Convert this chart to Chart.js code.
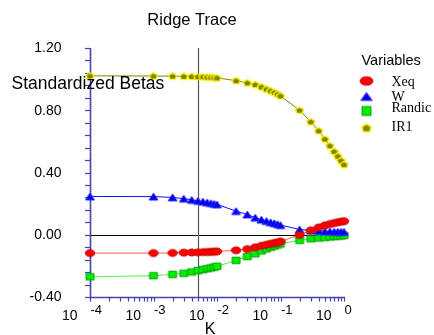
<!DOCTYPE html>
<html><head><meta charset="utf-8">
<script src="https://cdn.jsdelivr.net/npm/chart.js@4.4.1/dist/chart.umd.min.js"></script>
<style>html,body{margin:0;padding:0;background:#fff}#wrap{width:434px;height:335px}</style>
</head><body><div id="wrap"><canvas id="c" width="434" height="335"></canvas></div>
<script>
// ---- data ----
const K = [0.0001,
  0.001,0.002,0.003,0.004,0.005,0.006,0.007,0.008,0.009,
  0.01,0.02,0.03,0.04,0.05,0.06,0.07,0.08,0.09,
  0.1,0.2,0.3,0.4,0.5,0.6,0.7,0.8,0.9,1.0];
const xeq = [-0.118,
  -0.118,-0.117,-0.115,-0.114,-0.113,-0.112,-0.111,-0.110,-0.109,
  -0.107,-0.100,-0.092,-0.081,-0.071,-0.064,-0.058,-0.053,-0.049,
  -0.043,-0.001,0.028,0.047,0.060,0.069,0.075,0.080,0.084,0.087];
const w = [0.246,
  0.245,0.240,0.232,0.224,0.218,0.213,0.208,0.203,0.199,
  0.195,0.152,0.130,0.110,0.097,0.088,0.080,0.074,0.068,
  0.062,0.034,0.027,0.024,0.022,0.021,0.020,0.020,0.019,0.019];
const randic = [-0.270,
  -0.263,-0.255,-0.248,-0.239,-0.230,-0.224,-0.218,-0.213,-0.208,
  -0.203,-0.165,-0.140,-0.122,-0.104,-0.091,-0.080,-0.072,-0.065,
  -0.058,-0.036,-0.026,-0.021,-0.017,-0.014,-0.011,-0.009,-0.007,-0.005];
const ir1 = [1.021,
  1.020,1.019,1.018,1.017,1.016,1.015,1.013,1.012,1.010,
  1.008,0.990,0.976,0.965,0.950,0.936,0.925,0.915,0.904,
  0.892,0.800,0.726,0.668,0.615,0.572,0.535,0.505,0.477,0.451];
const seriesNames = ['Xeq','W','Randic','IR1'];
const yTickLabels = ['-0.40','0.00','0.40','0.80','1.20'];
const xTickExponents = ['-4','-3','-2','-1','0'];
const selectedK = 0.005;
const titleText = 'Ridge Trace';
const yTitle = 'Standardized Betas';
const xTitle = 'K';
const legendTitle = 'Variables';

// ---- markers ----
function makeMarker(shape, mw, mh, fill, stroke, lw) {
  const pad = Math.ceil(lw) + 1;
  const c = document.createElement('canvas');
  c.width = Math.ceil(mw + 2 * pad); c.height = Math.ceil(mh + 2 * pad);
  const g = c.getContext('2d');
  const cx = c.width / 2, cy = c.height / 2;
  g.beginPath();
  if (shape === 'ellipse') g.ellipse(cx, cy, mw / 2, mh / 2, 0, 0, Math.PI * 2);
  else if (shape === 'tri') { g.moveTo(cx, cy - mh / 2); g.lineTo(cx + mw / 2, cy + mh / 2); g.lineTo(cx - mw / 2, cy + mh / 2); g.closePath(); }
  else if (shape === 'rect') g.rect(cx - mw / 2, cy - mh / 2, mw, mh);
  else if (shape === 'penta') {
    for (let i = 0; i < 5; i++) {
      const a = -Math.PI / 2 + i * 2 * Math.PI / 5;
      const px = cx + Math.cos(a) * mw / 2, py = cy + Math.sin(a) * mh / 2 + mh * 0.05;
      i ? g.lineTo(px, py) : g.moveTo(px, py);
    }
    g.closePath();
  }
  g.fillStyle = fill; g.fill();
  g.lineWidth = lw; g.strokeStyle = stroke; g.stroke();
  return c;
}
const styles = [
  {shape:'ellipse', fill:'#ff0000', stroke:'#c00000', line:'#ff5a5a', w:9.5, h:7},
  {shape:'tri', fill:'#0000e6', stroke:'#2a2aff', line:'#1010ff', w:9, h:7},
  {shape:'rect', fill:'#00ee00', stroke:'#009a00', line:'#50f050', w:8, h:6.5},
  {shape:'penta', fill:'#858000', stroke:'#f2f200', line:'#808000', w:8.5, h:7}
];
const plotMarkers = styles.map(s => makeMarker(s.shape, s.w, s.h, s.fill, s.stroke, s.shape === 'penta' ? 1.3 : 0.9));
const legendMarkers = [
  makeMarker('ellipse', 13, 8.5, styles[0].fill, styles[0].stroke, 0.9),
  makeMarker('tri', 11.5, 8, styles[1].fill, styles[1].stroke, 0.9),
  makeMarker('rect', 9, 9, styles[2].fill, styles[2].stroke, 0.9),
  makeMarker('penta', 10, 8.5, styles[3].fill, styles[3].stroke, 1.4)
];
const seriesValues = [xeq, w, randic, ir1];

const datasets = seriesValues.map((vals, i) => ({
  label: seriesNames[i],
  data: K.map((k, j) => ({x: k, y: vals[j]})),
  borderColor: styles[i].line,
  borderWidth: 1,
  pointStyle: plotMarkers[i],
  pointRadius: 4,
  pointHoverRadius: 4,
  tension: 0,
  clip: false
}));

const AXIS = '#4343ad';
const axesPlugin = {
  id: 'axesPlugin',
  beforeDatasetsDraw(chart) {
    const {ctx, chartArea: a, scales: {x, y}} = chart;
    ctx.save();
    // zero line
    ctx.strokeStyle = '#000'; ctx.lineWidth = 1;
    const y0 = Math.round(y.getPixelForValue(0)) + 0.5;
    ctx.beginPath(); ctx.moveTo(a.left, y0); ctx.lineTo(a.right, y0); ctx.stroke();
    // selected K line
    const xs = Math.round(x.getPixelForValue(selectedK)) + 0.5;
    ctx.strokeStyle = '#555'; ctx.lineWidth = 1.2;
    ctx.beginPath(); ctx.moveTo(xs, a.top); ctx.lineTo(xs, a.bottom); ctx.stroke();
    // axes
    ctx.strokeStyle = AXIS; ctx.lineWidth = 1.6;
    ctx.beginPath(); ctx.moveTo(a.left + 0.5, a.top); ctx.lineTo(a.left + 0.5, a.bottom + 0.5); ctx.lineTo(a.right + 1, a.bottom + 0.5); ctx.stroke();
    ctx.lineWidth = 1.2;
    // y ticks every 0.08
    for (let i = 0; i <= 20; i++) {
      const v = -0.4 + i * 0.08;
      const py = Math.round(y.getPixelForValue(v)) + 0.5;
      ctx.beginPath(); ctx.moveTo(a.left - 5, py); ctx.lineTo(a.left, py); ctx.stroke();
    }
    // x log ticks
    for (let d = -4; d <= 0; d++) {
      for (let m = 1; m <= 9; m++) {
        const v = m * Math.pow(10, d);
        if (v > 1.0000001) break;
        const px = Math.round(x.getPixelForValue(v)) + 0.5;
        ctx.beginPath(); ctx.moveTo(px, a.bottom); ctx.lineTo(px, a.bottom + 4.5); ctx.stroke();
      }
    }
    ctx.restore();
  },
  afterDraw(chart) {
    const {ctx, chartArea: a, scales: {x, y}} = chart;
    ctx.save();
    ctx.fillStyle = '#000';
    // y tick labels
    ctx.font = '14px "Liberation Sans", Arial, sans-serif';
    ctx.textAlign = 'right'; ctx.textBaseline = 'middle';
    yTickLabels.forEach((t) => {
      ctx.fillText(t, 61.5, y.getPixelForValue(parseFloat(t)) + 0.5);
    });
    // x tick labels: 10 with exponent
    ctx.textBaseline = 'alphabetic';
    xTickExponents.forEach((e) => {
      const px = x.getPixelForValue(Math.pow(10, parseFloat(e)));
      ctx.font = '14px "Liberation Sans", Arial, sans-serif';
      ctx.textAlign = 'right';
      ctx.fillText('10', px - 12.5, 320);
      ctx.font = '13px "Liberation Sans", Arial, sans-serif';
      ctx.textAlign = 'left';
      ctx.fillText(e, px + 0.5, 313.5);
    });
    // axis titles
    ctx.font = '16px "Liberation Sans", Arial, sans-serif';
    ctx.textAlign = 'center';
    ctx.fillText(xTitle, 210, 334);
    ctx.font = '17.5px "Liberation Sans", Arial, sans-serif';
    ctx.textAlign = 'left';
    ctx.fillText(yTitle, 11.5, 89);
    // title
    ctx.font = '16.5px "Liberation Sans", Arial, sans-serif';
    ctx.textAlign = 'center';
    ctx.fillText(titleText, 192, 25);
    // legend
    ctx.font = '14.5px "Liberation Sans", Arial, sans-serif';
    ctx.textAlign = 'left';
    ctx.fillText(legendTitle, 361.5, 65);
    ctx.font = '14px "Liberation Serif", "Times New Roman", serif';
    const ly = [81, 96.5, 111, 128];
    const lb = [86, 101, 112, 131];
    seriesNames.forEach((n, i) => {
      const m = legendMarkers[i];
      ctx.drawImage(m, 366.5 - m.width / 2, ly[i] - m.height / 2);
      ctx.fillText(n, 391.5, lb[i]);
    });
    ctx.restore();
  }
};

new Chart(document.getElementById('c'), {
  type: 'line',
  data: {datasets},
  options: {
    responsive: false,
    animation: false,
    events: [],
    layout: {padding: {left: 90, right: 90, top: 48, bottom: 38}},
    plugins: {legend: {display: false}, tooltip: {enabled: false}, title: {display: false}},
    scales: {
      x: {type: 'logarithmic', min: 0.0001, max: 1, display: false},
      y: {type: 'linear', min: -0.4, max: 1.2, display: false}
    }
  },
  plugins: [axesPlugin]
});
</script>
</body></html>
